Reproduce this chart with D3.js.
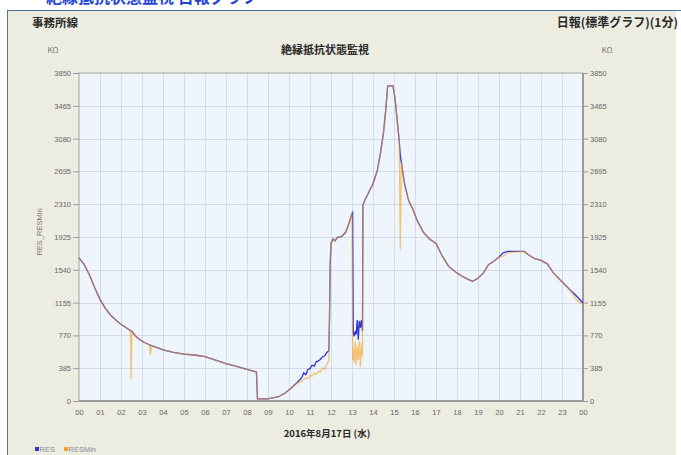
<!DOCTYPE html>
<html><head><meta charset="utf-8">
<script src="https://cdn.jsdelivr.net/npm/d3@7/dist/d3.min.js"></script>
<style>
html,body{margin:0;padding:0;background:#fff;}
svg{display:block;font-family:"Noto Sans CJK JP","Noto Sans",sans-serif;}
</style></head>
<body>
<svg id="c" width="681" height="455"></svg>
<script>
// ---- data (hours of 2016-08-17, values in kΩ) ----
const hours  = [0,0.25,0.5,0.75,1,1.25,1.5,1.75,2,2.25,2.45,2.48,2.52,2.7,2.9,3.1,3.35,3.4,3.45,3.7,4,4.5,5,5.5,6,6.5,7,7.5,8,8.45,8.5,9,9.5,9.8,10.1,10.4,10.6,10.7,10.8,10.9,11,11.1,11.2,11.3,11.4,11.5,11.6,11.7,11.8,11.9,11.93,11.96,12,12.1,12.2,12.3,12.5,12.7,12.85,13,13.03,13.06,13.1,13.15,13.2,13.25,13.3,13.35,13.4,13.45,13.5,13.52,13.6,13.8,14,14.2,14.35,14.5,14.6,14.7,14.95,15.05,15.15,15.25,15.3,15.35,15.5,15.7,15.9,16.1,16.4,16.7,17,17.3,17.6,17.9,18.2,18.5,18.75,19,19.25,19.5,19.75,20,20.2,20.4,21.2,21.4,21.7,22,22.3,22.6,23,23.4,23.7,24];
const res    = [1680,1600,1480,1330,1190,1090,1010,950,900,860,825,822,818,760,720,690,660,655,650,630,600,570,550,540,520,480,440,405,370,340,25,25,50,90,150,220,270,330,310,370,380,420,410,460,470,490,520,530,570,590,1000,1600,1850,1900,1880,1920,1930,1980,2080,2200,2210,800,760,820,780,950,720,940,860,950,820,2300,2350,2450,2550,2700,2900,3150,3400,3700,3700,3550,3300,3050,2880,2800,2550,2350,2250,2120,1980,1900,1850,1700,1580,1520,1470,1430,1405,1440,1500,1600,1640,1690,1740,1756,1756,1717,1670,1650,1610,1500,1400,1300,1230,1150];
const resMin = [1680,1600,1480,1330,1190,1090,1010,950,900,860,825,260,818,760,720,690,660,545,650,630,600,570,550,540,520,480,440,405,370,340,25,25,50,90,150,210,230,250,270,260,300,290,330,310,350,340,390,370,430,480,1000,1600,1850,1900,1880,1920,1930,1980,2080,2200,480,620,450,700,420,650,480,700,400,680,520,2300,2350,2450,2550,2700,2900,3150,3400,3700,3700,3550,3300,3050,1780,2800,2550,2350,2250,2120,1980,1900,1850,1700,1580,1520,1470,1430,1405,1440,1500,1600,1640,1690,1700,1740,1756,1717,1670,1650,1610,1500,1400,1300,1180,1130];
const yTicks = [0,385,770,1155,1540,1925,2310,2695,3080,3465,3850];
const xTickLabels = ["00","01","02","03","04","05","06","07","08","09","10","11","12","13","14","15","16","17","18","19","20","21","22","23","00"];
const seriesNames = ["RES","RESMin"];
const seriesColors = ["#3333d6","#f5a320"];

const svg = d3.select("#c");
const L=79, R=583, T=73, B=401;

// panel
svg.append("rect").attr("x",7).attr("y",10).attr("width",669).attr("height",450).attr("fill","#edece1");
svg.append("line").attr("x1",7).attr("x2",681).attr("y1",10.5).attr("y2",10.5).attr("stroke","#4f74a8").attr("stroke-width",1);
svg.append("line").attr("x1",7.5).attr("x2",7.5).attr("y1",10).attr("y2",455).attr("stroke","#4f74a8").attr("stroke-width",1);

// heading above the panel (only its lower part is inside the picture, as in the reference)
svg.append("text").attr("x",30).attr("y",3).attr("fill","#1f44d8").attr("font-size",16).attr("font-weight","bold")
  .text("・絶縁抵抗状態監視 日報グラフ");

// header texts
svg.append("text").attr("x",32).attr("y",27).attr("font-size",11.5).attr("font-weight","bold").attr("fill","#2a2a2a").text("事務所線");
svg.append("text").attr("x",678).attr("y",27).attr("text-anchor","end").attr("font-size",12).attr("font-weight","bold").attr("fill","#2a2a2a").text("日報(標準グラフ)(1分)");
svg.append("text").attr("x",325).attr("y",54).attr("text-anchor","middle").attr("font-size",11).attr("font-weight","bold").attr("fill","#2a2a2a").text("絶縁抵抗状態監視");
svg.append("text").attr("x",53).attr("y",53).attr("text-anchor","middle").attr("font-size",8).attr("fill","#777").text("KΩ");
svg.append("text").attr("x",607).attr("y",53).attr("text-anchor","middle").attr("font-size",8).attr("fill","#777").text("KΩ");

const x = d3.scaleLinear().domain([0,24]).range([L,R]);
const y = d3.scaleLinear().domain([0,3850]).range([B,T]);

// plot background
svg.append("rect").attr("x",L).attr("y",T).attr("width",R-L).attr("height",B-T).attr("fill","#eef5fc");

// grid
const g = svg.append("g");
g.selectAll("line.v").data(d3.range(1,24)).enter().append("line")
  .attr("x1",d=>Math.round(x(d))+0.5).attr("x2",d=>Math.round(x(d))+0.5).attr("y1",T).attr("y2",B)
  .attr("stroke","#d3dbe6").attr("stroke-width",1);
g.selectAll("line.h").data(yTicks.slice(1,-1)).enter().append("line")
  .attr("y1",d=>Math.round(y(d))+0.5).attr("y2",d=>Math.round(y(d))+0.5).attr("x1",L).attr("x2",R)
  .attr("stroke","#d3dbe6").attr("stroke-width",1);

// axes
const axL = d3.axisLeft(y).tickValues(yTicks).tickSize(6).tickPadding(2).tickFormat(d3.format("d"));
const axR = d3.axisRight(y).tickValues(yTicks).tickSize(5).tickPadding(2).tickFormat(d3.format("d"));
const axB = d3.axisBottom(x).tickValues(d3.range(0,25)).tickSize(0).tickPadding(9).tickFormat((d,i)=>xTickLabels[i]);
function style(sel){
  sel.select(".domain").remove();
  sel.selectAll("line").attr("stroke","#999");
  sel.selectAll("text").attr("fill","#666").attr("font-size",7.5).attr("font-family","'Liberation Sans',Arial,sans-serif");
}
svg.append("g").attr("transform",`translate(${L},0)`).call(axL).call(style);
svg.append("g").attr("transform",`translate(${R},0)`).call(axR).call(style);
svg.append("g").attr("transform",`translate(0,${B})`).call(axB).call(style);

// border
svg.append("rect").attr("x",L).attr("y",T).attr("width",R-L).attr("height",B-T).attr("fill","none").attr("stroke","#a3a3a3").attr("stroke-width",1);
svg.append("line").attr("x1",L).attr("x2",R+1).attr("y1",B).attr("y2",B).attr("stroke","#9a9a9a").attr("stroke-width",2);
svg.append("line").attr("x1",R).attr("x2",R).attr("y1",T).attr("y2",B).attr("stroke","#9a9a9a").attr("stroke-width",2);

// series
const line = d3.line().x(d=>x(d[0])).y(d=>y(d[1]));
const dRes = hours.map((h,i)=>[h,res[i]]);
const dMin = hours.map((h,i)=>[h,resMin[i]]);
svg.append("path").datum(dRes).attr("d",line).attr("fill","none").attr("stroke",seriesColors[0]).attr("stroke-width",1.3);
svg.append("path").datum(dMin).attr("d",line).attr("fill","none").attr("stroke",seriesColors[1]).attr("stroke-width",1.3).attr("opacity",0.62);

// axis titles
svg.append("text").attr("transform","translate(42,232) rotate(-90)").attr("text-anchor","middle").attr("font-size",7.5).attr("fill","#777")
  .attr("font-family","'Liberation Sans',Arial,sans-serif").text("RES_RESMin");
svg.append("text").attr("x",327).attr("y",437).attr("text-anchor","middle").attr("font-size",9.5).attr("font-weight","bold").attr("fill","#2a2a2a").text("2016年8月17日 (水)");

// legend
const lg = svg.append("g").attr("transform","translate(35,451)");
const it = lg.selectAll("g").data(seriesNames).enter().append("g").attr("transform",(d,i)=>`translate(${i*29},0)`);
it.append("rect").attr("x",0).attr("y",-4).attr("width",4).attr("height",4).attr("fill",(d,i)=>seriesColors[i]);
it.append("text").attr("x",4.5).attr("y",0.5).attr("font-size",7.5).attr("fill","#8a8aa0").attr("font-family","'Liberation Sans',Arial,sans-serif").text(d=>d);
</script>
</body></html>
